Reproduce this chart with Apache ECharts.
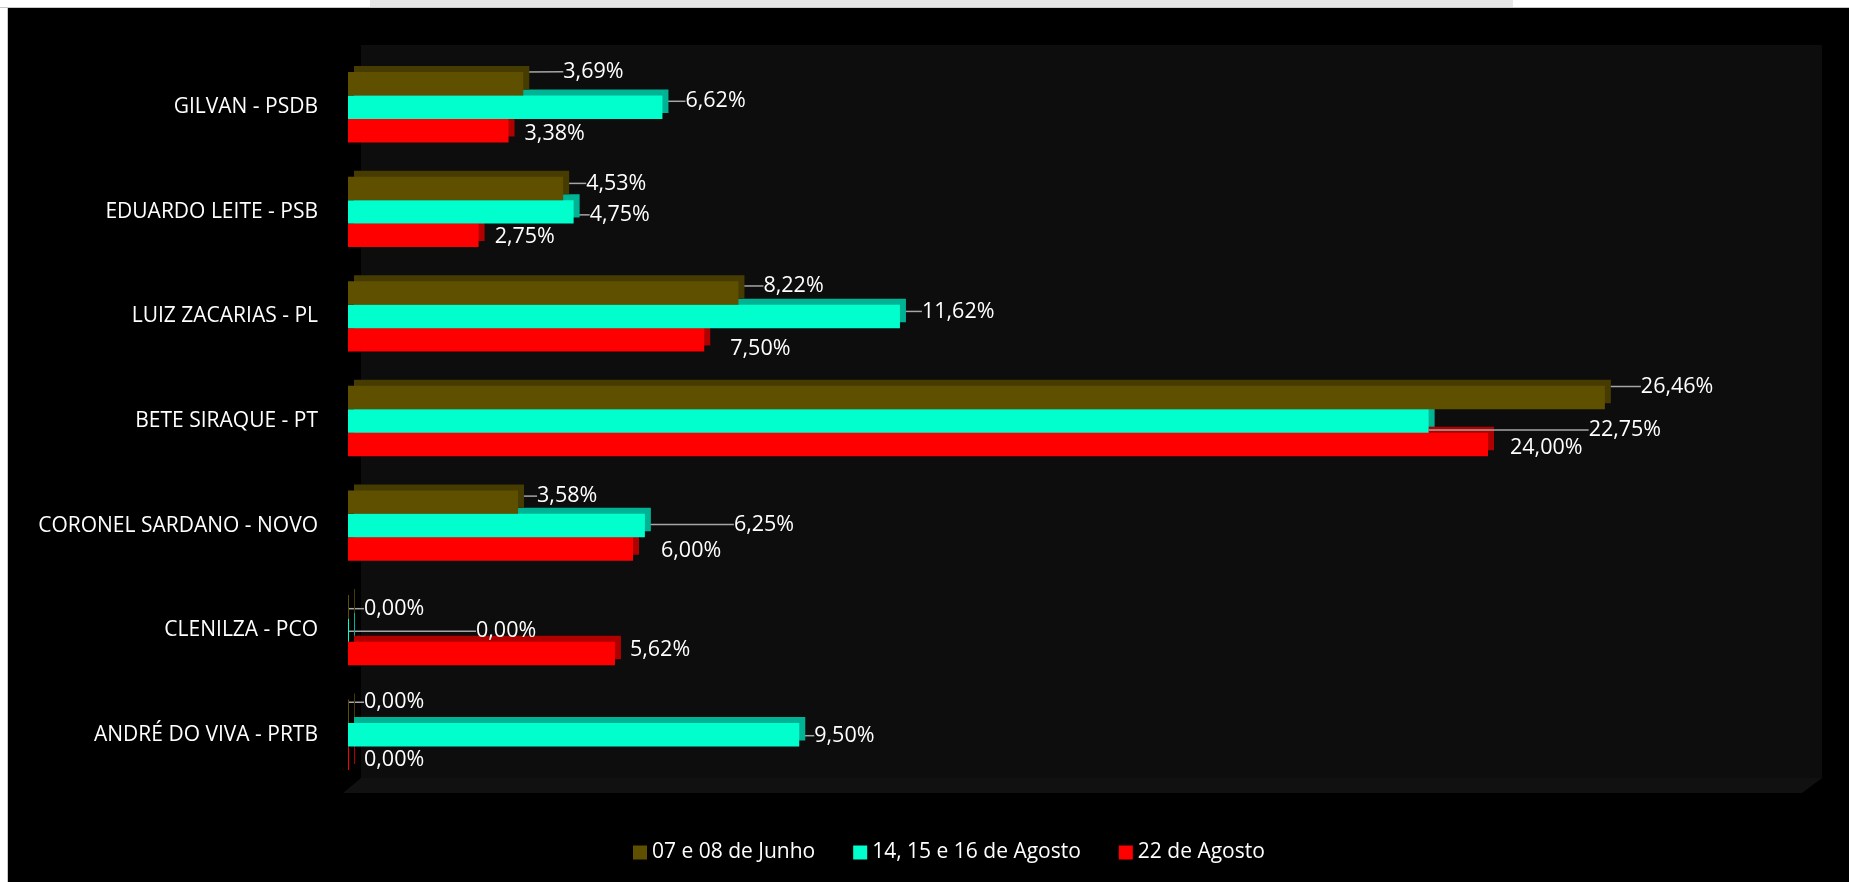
<!DOCTYPE html>
<html>
<head>
<meta charset="utf-8">
<style>
html,body{margin:0;padding:0;background:#000;}
#chart{width:1849px;height:882px;}
</style>
<script src="https://cdn.jsdelivr.net/npm/echarts@6/dist/echarts.min.js"></script>
</head>
<body>
<div id="chart"></div>
<script>
// ---- data ----
var categories = ['GILVAN - PSDB','EDUARDO LEITE - PSB','LUIZ ZACARIAS - PL','BETE SIRAQUE - PT','CORONEL SARDANO - NOVO','CLENILZA - PCO','ANDRÉ DO VIVA - PRTB'];
var seriesNames = ['07 e 08 de Junho','14, 15 e 16 de Agosto','22 de Agosto'];
var junho = [3.69, 4.53, 8.22, 26.46, 3.58, 0.00, 0.00];
var agosto14 = [6.62, 4.75, 11.62, 22.75, 6.25, 0.00, 9.50];
var agosto22 = [3.38, 2.75, 7.50, 24.00, 6.00, 5.62, 0.00];

// ---- styling (label placement like the original, [gap from bar end, vertical shift]) ----
var labelPlacement = [
  [[40,-12],[23,-5],[25,-7],[36,-11],[19,-6],[15,2],[15,-9]],
  [[23,-6],[16,3],[22,-5],[160,9],[89,-1],[127,1],[15,1]],
  [[16,3],[16,2],[26,9],[22,3],[28,2],[15,-4],[15,2]]
];
var colors = ['#5f5000','#00ffcc','#ff0000'];
var sideColors = ['#463b00','#00b395','#b00000'];

function fmt(p){ return p.value.toFixed(2).replace('.', ',') + '%'; }

function makeSeries(i, data){
  return {
    name: seriesNames[i],
    type: 'bar',
    data: data,
    z: 10 - i,
    barGap: '0%',
    barCategoryGap: '32.7%',
    barMinHeight: 1,
    itemStyle: {
      color: colors[i],
      shadowColor: sideColors[i],
      shadowBlur: 0,
      shadowOffsetX: 6,
      shadowOffsetY: -6
    },
    label: {
      show: true,
      position: 'right',
      color: '#ffffff',
      fontFamily: 'Open Sans',
      fontSize: 21.5,
      formatter: fmt
    },
    labelLine: {
      show: i < 2,
      lineStyle: { color: '#a6a6a6', width: 1.5 }
    },
    labelLayout: function (params) {
      var pl = labelPlacement[i][params.dataIndex];
      var r = params.rect;
      return {
        x: r.x + r.width + pl[0],
        y: r.y + r.height / 2 + pl[1],
        align: 'left',
        verticalAlign: 'middle'
      };
    }
  };
}

var chart = echarts.init(document.getElementById('chart'));
chart.setOption({
  backgroundColor: '#000000',
  animation: false,
  textStyle: { fontFamily: 'Open Sans' },
  graphic: [
    { type: 'rect', z: -10, shape: { x: 0, y: 0, width: 1849, height: 8 }, style: { fill: '#ffffff' } },
    { type: 'rect', z: -9, shape: { x: 370, y: 0, width: 1143, height: 7 }, style: { fill: '#e6e6e6' } },
    { type: 'rect', z: -9, shape: { x: 0, y: 7, width: 1849, height: 1 }, style: { fill: '#c8c8c8' } },
    { type: 'rect', z: -10, shape: { x: 0, y: 0, width: 8, height: 882 }, style: { fill: '#ffffff' } },
    { type: 'rect', z: -9, shape: { x: 7, y: 7, width: 1, height: 875 }, style: { fill: '#c8c8c8' } },
    { type: 'rect', z: -8, shape: { x: 361, y: 45, width: 1461, height: 733 }, style: { fill: '#0d0d0d' } },
    { type: 'polygon', z: -8, shape: { points: [[361,778],[1822,778],[1802,793],[343,793]] }, style: { fill: '#111111' } }
  ],
  legend: {
    data: seriesNames,
    left: 628,
    top: 837,
    itemWidth: 14,
    itemHeight: 14,
    itemGap: 38,
    icon: 'rect',
    textStyle: { color: '#ffffff', fontSize: 21, fontFamily: 'Open Sans' }
  },
  grid: { left: 348, right: 76, top: 55, bottom: 95, containLabel: false },
  xAxis: {
    type: 'value',
    min: 0,
    max: 30,
    show: false,
    splitLine: { show: false }
  },
  yAxis: {
    type: 'category',
    data: categories,
    inverse: true,
    axisLine: { show: false },
    axisTick: { show: false },
    axisLabel: {
      color: '#ffffff',
      fontSize: 21,
      fontFamily: 'Open Sans',
      margin: 30,
      padding: [14, 0, 0, 0]
    }
  },
  series: [makeSeries(0, junho), makeSeries(1, agosto14), makeSeries(2, agosto22)]
});
</script>
</body>
</html>
